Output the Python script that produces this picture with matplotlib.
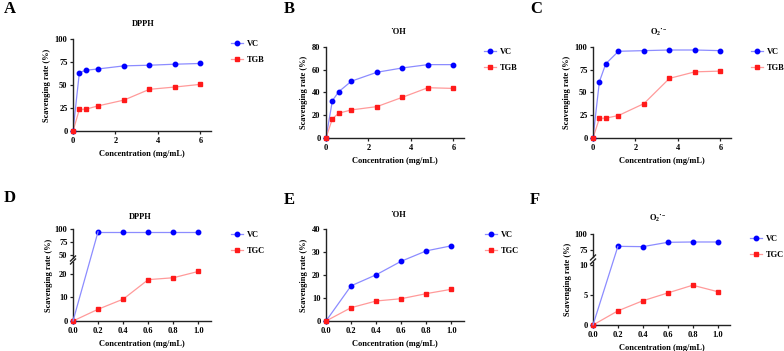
import matplotlib
matplotlib.use("Agg")
import matplotlib.pyplot as plt
from matplotlib.patches import ConnectionPatch

plt.rcParams['font.family'] = ['Liberation Serif', 'DejaVu Serif']
plt.rcParams['font.weight'] = 'bold'
plt.rcParams['mathtext.fontset'] = 'custom'
plt.rcParams['mathtext.rm'] = 'Liberation Serif:bold'
plt.rcParams['mathtext.it'] = 'Liberation Serif:bold'
plt.rcParams['mathtext.bf'] = 'Liberation Serif:bold'

# ---------------- data ----------------
conc_top = [0, 0.3, 0.6, 1.2, 2.4, 3.6, 4.8, 6.0]
conc_bottom = [0, 0.2, 0.4, 0.6, 0.8, 1.0]

A_vc = [0, 63.5, 66.0, 67.5, 70.8, 71.5, 72.6, 73.4]
A_tgb = [0, 23.4, 23.7, 27.4, 33.6, 45.3, 47.8, 50.7]
B_vc = [0, 32.8, 40.7, 50.0, 57.8, 61.6, 64.5, 64.5]
B_tgb = [0, 16.9, 21.8, 24.7, 27.6, 35.8, 44.2, 43.6]
C_vc = [0, 61.8, 81.5, 95.3, 96.0, 96.7, 96.7, 96.0]
C_tgb = [0, 21.5, 21.8, 24.7, 37.8, 65.5, 72.7, 73.5]

D_vc = [0, 95, 95, 95, 95, 95]
D_tgc = [0, 5.0, 9.3, 17.6, 18.4, 21.1]
E_vc = [0, 15.3, 20.1, 26.0, 30.5, 32.7]
E_tgc = [0, 5.8, 8.7, 9.7, 11.9, 13.8]
F_vc = [0, 80.7, 80.2, 87.0, 87.5, 87.5]
F_tgc = [0, 2.36, 4.04, 5.34, 6.63, 5.56]

titles = ["DPPH", "\u02d9OH", "O$_2$\u02d9$^{-}$", "DPPH", "\u02d9OH", "O$_2$\u02d9$^{-}$"]
letters = ["A", "B", "C", "D", "E", "F"]
xlabel = "Concentration (mg/mL)"
ylabel = "Scavenging rate (%)"
labels_top = ["VC", "TGB"]
labels_bottom = ["VC", "TGC"]

W, H = 784, 351
fig = plt.figure(figsize=(W / 100, H / 100), dpi=100)

BLUE_M, BLUE_L = "#0000ff", "#8c8cff"
RED_M, RED_L = "#ff1a1a", "#ff9a9a"
FS = 6


def rect(l, r, t, b):
    return [l / W, 1 - b / H, (r - l) / W, (b - t) / H]


def style(ax, hide_bottom=False):
    for s in ["top", "right"]:
        ax.spines[s].set_visible(False)
    for s in ["left", "bottom"]:
        ax.spines[s].set_linewidth(1.0)
        ax.spines[s].set_color("#222222")
    ax.tick_params(direction="out", length=2.5, width=0.9, labelsize=FS, pad=1.5, color="#222222")
    if hide_bottom:
        ax.spines["bottom"].set_visible(False)
        ax.tick_params(axis="x", bottom=False, labelbottom=False)
    ax.patch.set_alpha(0)


def draw(ax, x, vc, other):
    l1, = ax.plot(x, vc, color=BLUE_L, lw=0.9, zorder=2)
    l2, = ax.plot(x, other, color=RED_L, lw=0.9, zorder=2)
    m1, = ax.plot(x, vc, ls="none", marker="o", ms=3.2, color=BLUE_M, zorder=3, clip_on=False)
    m2, = ax.plot(x, other, ls="none", marker="s", ms=3.2, color=RED_M, zorder=3, clip_on=False)
    return (l1, m1), (l2, m2)


def legend(ax, handles, labels, l, r, t, b, hx, hy):
    ax.legend(handles, labels, loc="upper left",
              bbox_to_anchor=((hx - l) / (r - l), (b - hy) / (b - t)),
              frameon=False, fontsize=FS, borderpad=0, borderaxespad=0,
              handlelength=1.45, handletextpad=0.45, labelspacing=0.95)


def letter(px, py, s):
    fig.text(px / W, 1 - py / H, s, fontsize=12, fontweight="bold", ha="left", va="center")


# ---------------- top row ----------------
top_specs = [
    (73, 211, 39, 131, A_vc, A_tgb, 100, [0, 25, 50, 75, 100], 231, 40, 143, 24, 4, 9),
    (326, 464, 47, 138, B_vc, B_tgb, 80, [0, 20, 40, 60, 80], 484, 48, 398, 32, 284, 9),
    (593, 731, 47, 138, C_vc, C_tgb, 100, [0, 25, 50, 75, 100], 751, 48, 659, 32, 530, 9),
]
for i, (l, r, t, b, vc, tg, ymax, yt, hx, hy, tx, ty, lx, ly) in enumerate(top_specs):
    ax = fig.add_axes(rect(l, r, t, b))
    hs = draw(ax, conc_top, vc, tg)
    ax.set_xlim(0, 6.5)
    ax.set_ylim(0, ymax)
    ax.set_xticks([0, 2, 4, 6])
    ax.set_yticks(yt)
    style(ax)
    ax.set_xlabel(xlabel, fontsize=FS, fontweight="bold", labelpad=4)
    ax.set_ylabel(ylabel, fontsize=FS, fontweight="bold", labelpad=3)
    fig.text(tx / W, 1 - ty / H, titles[i], fontsize=FS, fontweight="bold", ha="center", va="center")
    legend(ax, hs, labels_top, l, r, t, b, hx, hy)
    letter(lx, ly, letters[i])

# ---------------- panel E (simple) ----------------
l, r, t, b = 326, 464, 229, 321
axE = fig.add_axes(rect(l, r, t, b))
hs = draw(axE, conc_bottom, E_vc, E_tgc)
axE.set_xlim(0, 1.1)
axE.set_ylim(0, 40)
axE.set_xticks(conc_bottom)
axE.set_xticklabels([f"{v:.1f}" for v in conc_bottom])
axE.set_yticks([0, 10, 20, 30, 40])
style(axE)
axE.set_xlabel(xlabel, fontsize=FS, fontweight="bold", labelpad=4)
axE.set_ylabel(ylabel, fontsize=FS, fontweight="bold", labelpad=3)
fig.text(398 / W, 1 - 215 / H, titles[4], fontsize=FS, fontweight="bold", ha="center", va="center")
legend(axE, hs, labels_bottom, l, r, t, b, 485, 231)
letter(284, 200, "E")


# ---------------- broken panels D and F ----------------
def series_broken(axT, axB, x, y, ylim_bot, line_c, mark_c, marker):
    lo_b, hi_b = ylim_bot
    inb = [v <= hi_b for v in y]
    xb = [a for a, k in zip(x, inb) if k]
    yb = [v for v, k in zip(y, inb) if k]
    xt = [a for a, k in zip(x, inb) if not k]
    yt = [v for v, k in zip(y, inb) if not k]
    lb, = axB.plot(xb, yb, color=line_c, lw=0.9, zorder=2)
    axT.plot(xt, yt, color=line_c, lw=0.9, zorder=2)
    mb, = axB.plot(xb, yb, ls="none", marker=marker, ms=3.2, color=mark_c, zorder=3, clip_on=False)
    axT.plot(xt, yt, ls="none", marker=marker, ms=3.2, color=mark_c, zorder=3, clip_on=False)
    # segments that cross the break: straight line on the page
    for i in range(len(x) - 1):
        if inb[i] != inb[i + 1]:
            j_b, j_t = (i, i + 1) if inb[i] else (i + 1, i)
            con = ConnectionPatch(xyA=(x[j_b], y[j_b]), coordsA=axB.transData,
                                  xyB=(x[j_t], y[j_t]), coordsB=axT.transData,
                                  color=line_c, lw=0.9, zorder=1)
            fig.add_artist(con)
    return (lb, mb)


def broken(l, r, t_top, b_top, t_bot, b_bot, ylim_top, ylim_bot, yt_top, yt_bot,
           vc, tg, title, tx, ty, hx, hy, letter_s, lx, ly, ylab_x):
    axT = fig.add_axes(rect(l, r, t_top, b_top))
    axB = fig.add_axes(rect(l, r, t_bot, b_bot))
    for a in (axT, axB):
        a.set_xlim(0, 1.1)
    axT.set_ylim(*ylim_top)
    axB.set_ylim(*ylim_bot)
    h1 = series_broken(axT, axB, conc_bottom, vc, ylim_bot, BLUE_L, BLUE_M, "o")
    h2 = series_broken(axT, axB, conc_bottom, tg, ylim_bot, RED_L, RED_M, "s")
    axT.set_yticks(yt_top)
    axB.set_yticks(yt_bot)
    axB.set_xticks(conc_bottom)
    axB.set_xticklabels([f"{v:.1f}" for v in conc_bottom])
    style(axT, hide_bottom=True)
    style(axB)
    axB.set_xlabel(xlabel, fontsize=FS, fontweight="bold", labelpad=4)
    fig.text(ylab_x / W, 1 - ((t_top + b_bot) / 2) / H, ylabel, fontsize=FS, fontweight="bold",
             rotation=90, ha="center", va="center")
    fig.text(tx / W, 1 - ty / H, title, fontsize=FS, fontweight="bold", ha="center", va="center")
    for yb in (b_top + 0.5, t_bot - 0.5):
        fig.add_artist(plt.Line2D([(l - 2.5) / W, (l + 2.5) / W],
                                  [1 - (yb + 2.5) / H, 1 - (yb - 2.5) / H],
                                  color="#222222", lw=1.0))
    legend(axT, [h1, h2], labels_bottom, l, r, t_top, b_top, hx, hy)
    letter(lx, ly, letter_s)


broken(73, 211, 229, 258, 262, 321, (44.2, 100), (0, 25.1), [50, 75, 100], [0, 10, 20],
       D_vc, D_tgc, titles[3], 140, 217, 231, 231, "D", 4, 198, 49)
broken(593, 730, 234, 257, 262, 325, (64, 100), (0, 10.5), [75, 100], [0, 5, 10],
       F_vc, F_tgc, titles[5], 658, 218, 750, 235, "F", 530, 200, 568)

fig.savefig("out.png", dpi=100)
